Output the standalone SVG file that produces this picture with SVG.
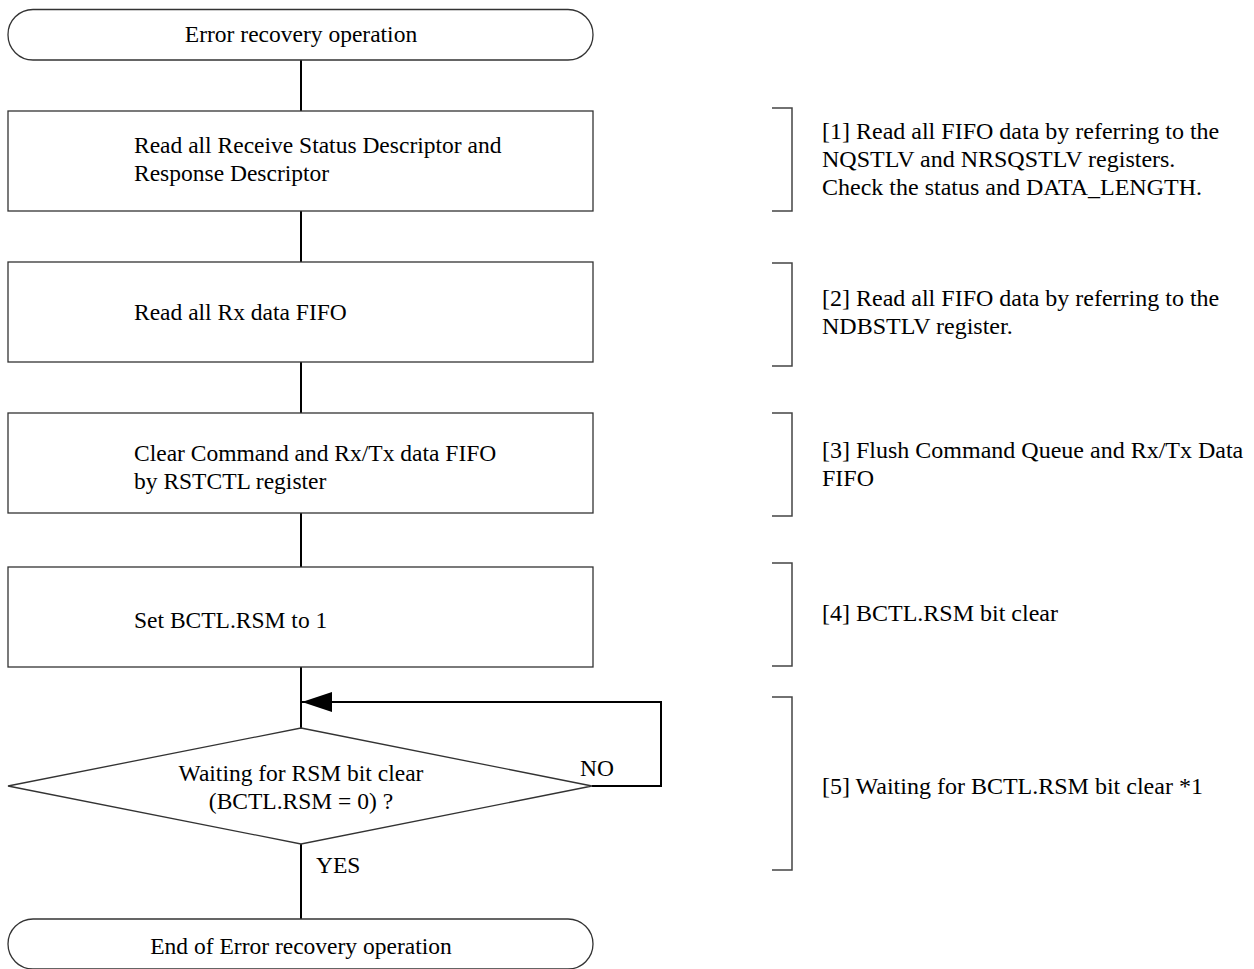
<svg xmlns="http://www.w3.org/2000/svg" width="1254" height="969" viewBox="0 0 1254 969">
<defs>
<style>
.shape{fill:#fff;stroke:#333;stroke-width:1.3}
.conn{fill:none;stroke:#000;stroke-width:2}
.brk{fill:none;stroke:#444;stroke-width:1.5}
text{font-family:"Liberation Serif","Times New Roman",serif;font-size:23.5px;fill:#000}
.c{text-anchor:middle}
.n{font-size:24px}
</style>
<marker id="arr" viewBox="0 0 30 20" refX="30" refY="10" markerWidth="30" markerHeight="20" markerUnits="userSpaceOnUse" orient="auto">
<path d="M0,0 L30,10 L0,20 Z" fill="#000"/>
</marker>
</defs>
<g id="connectors">
<line class="conn" x1="301" y1="60" x2="301" y2="111"/>
<line class="conn" x1="301" y1="211" x2="301" y2="262"/>
<line class="conn" x1="301" y1="362" x2="301" y2="413"/>
<line class="conn" x1="301" y1="513" x2="301" y2="567"/>
<line class="conn" x1="301" y1="667" x2="301" y2="728"/>
<polyline class="conn" points="592,786 661,786 661,702 302,702" marker-end="url(#arr)"/>
<line class="conn" x1="301" y1="844" x2="301" y2="919"/>
</g>
<g id="start">
<rect class="shape" x="8" y="9.5" width="585" height="50.5" rx="25" ry="25"/>
<text class="c" x="301" y="42">Error recovery operation</text>
</g>
<g id="step1">
<rect class="shape" x="8" y="111" width="585" height="100"/>
<text x="134" y="153">Read all Receive Status Descriptor and</text>
<text x="134" y="181">Response Descriptor</text>
</g>
<g id="step2">
<rect class="shape" x="8" y="262" width="585" height="100"/>
<text x="134" y="320">Read all Rx data FIFO</text>
</g>
<g id="step3">
<rect class="shape" x="8" y="413" width="585" height="100"/>
<text x="134" y="461">Clear Command and Rx/Tx data FIFO</text>
<text x="134" y="489">by RSTCTL register</text>
</g>
<g id="step4">
<rect class="shape" x="8" y="567" width="585" height="100"/>
<text x="134" y="628">Set BCTL.RSM to 1</text>
</g>
<g id="decision">
<polygon class="shape" points="301,728 592,786 301,844 8,786"/>
<text class="c" x="301" y="781">Waiting for RSM bit clear</text>
<text class="c" x="301" y="809">(BCTL.RSM = 0) ?</text>
<text x="580" y="776">NO</text>
<text x="316" y="873">YES</text>
</g>
<g id="end">
<rect class="shape" x="8" y="919" width="585" height="50" rx="25" ry="25"/>
<text class="c" x="301" y="954">End of Error recovery operation</text>
</g>
<g id="notes">
<path class="brk" d="M772,108 H792 V211 H772"/>
<text class="n" x="822" y="139">[1] Read all FIFO data by referring to the</text>
<text class="n" x="822" y="167">NQSTLV and NRSQSTLV registers.</text>
<text class="n" x="822" y="195">Check the status and DATA_LENGTH.</text>
<path class="brk" d="M772,263 H792 V366 H772"/>
<text class="n" x="822" y="306">[2] Read all FIFO data by referring to the</text>
<text class="n" x="822" y="334">NDBSTLV register.</text>
<path class="brk" d="M772,413 H792 V516 H772"/>
<text class="n" x="822" y="458">[3] Flush Command Queue and Rx/Tx Data</text>
<text class="n" x="822" y="486">FIFO</text>
<path class="brk" d="M772,563 H792 V666 H772"/>
<text class="n" x="822" y="621">[4] BCTL.RSM bit clear</text>
<path class="brk" d="M772,697 H792 V870 H772"/>
<text class="n" x="822" y="794">[5] Waiting for BCTL.RSM bit clear *1</text>
</g>
</svg>
